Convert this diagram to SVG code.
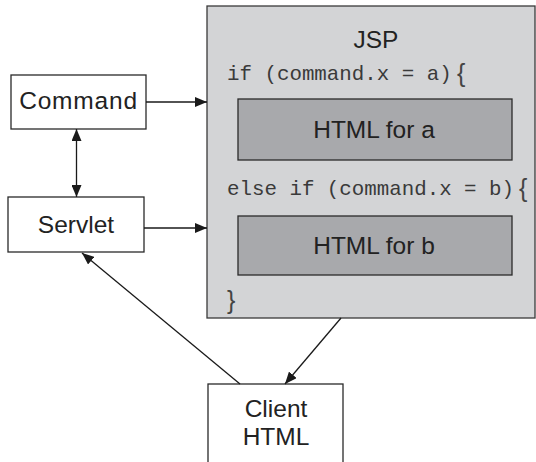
<svg xmlns="http://www.w3.org/2000/svg" width="536" height="462" viewBox="0 0 536 462">
<style>
.box{fill:#fff;stroke:#2a2a2a;stroke-width:1.3}
.jsp{fill:#d3d4d6;stroke:#3a3a3a;stroke-width:1.3}
.html{fill:#a8a9ac;stroke:#2a2a2a;stroke-width:1.3}
.lbl{font-family:"Liberation Sans",Arial,sans-serif;font-size:24.5px;fill:#222;text-anchor:middle}
.code{font-family:"Liberation Mono","Courier New",monospace;font-size:20.8px;fill:#3a3a3a}
.brace{font-family:"Liberation Sans",Arial,sans-serif;font-size:25px;fill:#444}
.conn line{stroke:#1a1a1a;stroke-width:1.3;fill:none}
</style>
<defs>
<marker id="ah" viewBox="0 0 12 10" refX="12" refY="5" markerWidth="12" markerHeight="10" markerUnits="userSpaceOnUse" orient="auto-start-reverse">
<path d="M0,0 L12,5 L0,10 Z" fill="#1a1a1a"/>
</marker>
</defs>
<g id="jsp">
<rect class="jsp" x="207" y="6" width="328" height="312"/>
<text class="lbl" x="376" y="48">JSP</text>
<text class="code" x="227" y="80" xml:space="preserve">if (command.x = a)</text>
<text class="brace" x="457" y="82">{</text>
<text class="code" x="227" y="195" xml:space="preserve">else if (command.x = b)</text>
<text class="brace" x="519" y="197">{</text>
<text class="brace" x="227" y="309">}</text>
</g>
<g id="html-a">
<rect class="html" x="238" y="99" width="274" height="61"/>
<text class="lbl" x="374" y="137.5">HTML for a</text>
</g>
<g id="html-b">
<rect class="html" x="238" y="216" width="274" height="59"/>
<text class="lbl" x="374" y="253.5">HTML for b</text>
</g>
<g id="command">
<rect class="box" x="11" y="75" width="135" height="54"/>
<text class="lbl" x="78.5" y="109" letter-spacing="0.8">Command</text>
</g>
<g id="servlet">
<rect class="box" x="8" y="197" width="136" height="55"/>
<text class="lbl" x="76" y="233">Servlet</text>
</g>
<g id="client">
<rect class="box" x="208" y="384" width="135" height="90"/>
<text class="lbl" x="276" y="417">Client</text>
<text class="lbl" x="276" y="445">HTML</text>
</g>
<g class="conn" id="connectors">
<line x1="146" y1="102" x2="207" y2="102" marker-end="url(#ah)"/>
<line x1="144" y1="228" x2="207" y2="228" marker-end="url(#ah)"/>
<line x1="76.5" y1="129" x2="76.5" y2="197" marker-start="url(#ah)" marker-end="url(#ah)"/>
<line x1="341" y1="318" x2="285" y2="384" marker-end="url(#ah)"/>
<line x1="240" y1="384" x2="82" y2="253" marker-end="url(#ah)"/>
</g>
</svg>
